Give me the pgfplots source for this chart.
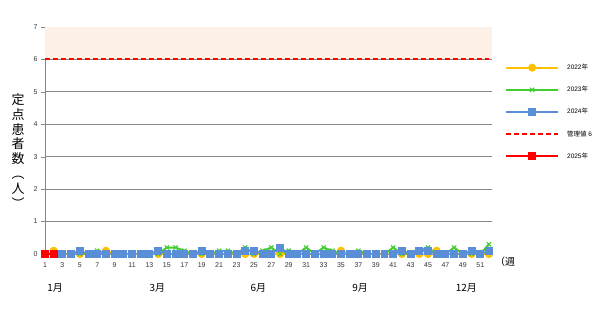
\documentclass[border=0pt]{standalone}
\usepackage{pgfplots}
\pgfplotsset{compat=1.18}
\usepackage{pgfplotstable}
\usepackage{fontspec}
\setmainfont{Liberation Sans}
\newfontfamily\cjk{Noto Sans CJK JP}
\definecolor{yrA}{HTML}{FFC000}
\definecolor{yrB}{HTML}{44CC33}
\definecolor{yrC}{HTML}{5A8ED6}
\definecolor{band}{HTML}{FDF1E7}
\definecolor{gridc}{HTML}{888888}

\pgfplotstableread{
w y22 y23 y24
1 0 0 0
2 0.1 0 0
3 0 0 0
4 0 0 0
5 0 0 0.1
6 0 0 0
7 0 0.1 0
8 0.1 0 0
9 0 0 0
10 0 0 0
11 0 0 0
12 0 0 0
13 0 0 0
14 0 0 0.1
15 0 0.2 0
16 0 0.2 0
17 0 0.1 0
18 0 0 0
19 0 0 0.1
20 0 0 0
21 0 0.1 0
22 0 0.1 0
23 0 0 0
24 0 0.2 0.1
25 0 0 0.1
26 0 0.1 0
27 0 0.2 0
28 0 0 0.2
29 0 0.1 0
30 0 0 0
31 0 0.2 0
32 0 0 0
33 0 0.2 0
34 0 0.1 0
35 0.1 0 0
36 0 0 0
37 0 0.1 0
38 0 0 0
39 0 0 0
40 0 0 0
41 0 0.2 0
42 0 0 0.1
43 0 0 0
44 0 0.1 0.1
45 0 0.2 0.1
46 0.1 0 0
47 0 0 0
48 0 0.2 0
49 0 0 0
50 0 0 0.1
51 0 0 0
52 0 0.3 0.1
}\data

\pgfplotstableread{
w y
1 0
2 0
}\dataB

\begin{document}
\begin{tikzpicture}
\useasboundingbox (0,0) rectangle (607bp,311bp);
\begin{axis}[
  at={(45bp,57bp)}, anchor=south west,
  scale only axis, width=447bp, height=227bp,
  xmin=1, xmax=52.35, ymin=0, ymax=7,
  axis line style={gridc},
  axis x line*=bottom, axis y line*=left,
  x axis line style={draw=none},
  ytick={0,1,...,7},
  xtick={1,3,...,51},
  ymajorgrids, grid style={gridc, line width=0.8pt},
  tick style={gridc},
  xtick style={draw=none},
  ytick align=outside, major tick length=4bp,
  tick label style={font=\fontsize{7}{8}\selectfont, text=black!80},
  xticklabel style={yshift=-5bp},
  /pgf/number format/assume math mode=true,
  clip=false,
  legend style={at={(rel axis cs:1,1)}, xshift=13bp, yshift=-33bp, anchor=north west, draw=none, fill=none,
    font=\fontsize{6.5}{8}\selectfont, row sep=11.2bp, cells={anchor=west}, inner xsep=0pt},
  legend cell align=left,
  legend image code/.code={\draw[mark repeat=2,mark phase=2] plot coordinates {(0bp,0bp) (26bp,0bp) (52bp,0bp)};\path (58bp,0bp);},
]
\addlegendimage{yrA, line width=2pt, mark=*, mark size=3bp, mark options={solid}}
\addlegendentry{2022{\cjk 年}}
\addlegendimage{yrB, line width=2pt, mark=x, mark size=3bp, mark options={solid, line width=1.1pt}}
\addlegendentry{2023{\cjk 年}}
\addlegendimage{yrC, line width=2pt, mark=square*, mark size=3bp, mark options={solid}}
\addlegendentry{2024{\cjk 年}}
\addlegendimage{red, line width=2pt, dash pattern=on 5bp off 3bp}
\addlegendentry{{\cjk 管理値} 6}
\addlegendimage{red, line width=2pt, mark=square*, mark size=3bp, mark options={solid}}
\addlegendentry{2025{\cjk 年}}
\addplot[draw=none, fill=band, forget plot] coordinates {(1,6) (52.35,6) (52.35,7) (1,7)} -- cycle;
\addplot[forget plot, yrA, line width=2pt, mark=*, mark size=3bp, mark options={solid}] table[x=w,y=y22]{\data};
\addplot[forget plot, yrB, line width=2pt, mark=x, mark size=3bp, mark options={solid, line width=1.1pt}] table[x=w,y=y23]{\data};
\addplot[forget plot, yrC, line width=2pt, mark=square*, mark size=3bp, mark options={solid}] table[x=w,y=y24]{\data};
\addplot[forget plot, red, line width=2pt, dash pattern=on 5bp off 3bp] coordinates {(1,6) (52,6)};
\addplot[forget plot, red, line width=2pt, mark=square*, mark size=3bp, mark options={solid}] table[x=w,y=y]{\dataB};
\node[font=\cjk\fontsize{10}{12}\selectfont, anchor=west] at (axis cs:52.3,-0.25) {（週};
\node[font=\cjk\fontsize{10}{12}\selectfont] at (axis cs:2.15,-1.05) {1月};
\node[font=\cjk\fontsize{10}{12}\selectfont] at (axis cs:13.9,-1.05) {3月};
\node[font=\cjk\fontsize{10}{12}\selectfont] at (axis cs:25.5,-1.05) {6月};
\node[font=\cjk\fontsize{10}{12}\selectfont] at (axis cs:37.2,-1.05) {9月};
\node[font=\cjk\fontsize{10}{12}\selectfont] at (axis cs:49.4,-1.05) {12月};
\end{axis}
\node[font=\cjk\fontsize{13}{15}\selectfont, align=center, inner sep=0pt] at (18bp,160bp) {定\\点\\患\\者\\数\\︵\\人\\︶};
\end{tikzpicture}
\end{document}
